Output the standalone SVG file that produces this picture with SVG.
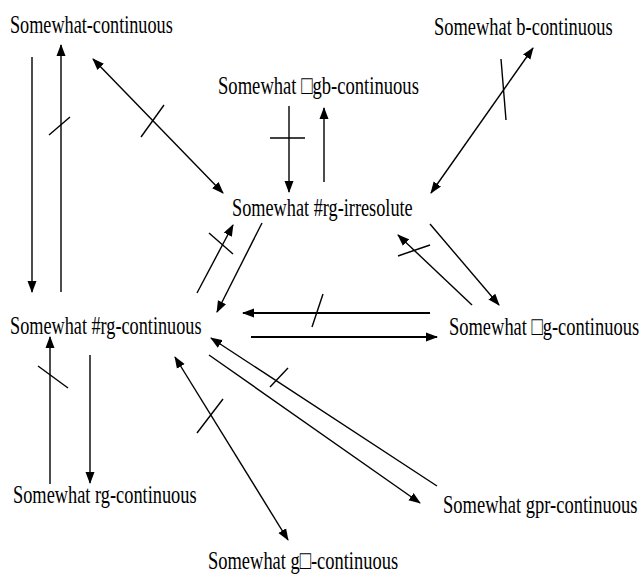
<svg xmlns="http://www.w3.org/2000/svg" width="642" height="578" viewBox="0 0 642 578">
<style>
text{font-family:"Liberation Serif","Times New Roman",serif;font-size:26px;fill:#000}
.c line{stroke:#000;stroke-width:1.4;fill:none}
.c .a{marker-end:url(#ah)}
.c .d{marker-start:url(#ah);marker-end:url(#ah)}
.c .t{stroke-width:2}
</style>
<defs>
<marker id="ah" markerUnits="userSpaceOnUse" markerWidth="12" markerHeight="10" refX="11" refY="4.5" orient="auto-start-reverse" viewBox="0 0 12 9">
<path d="M0,0 L12,4.5 L0,9 z" fill="#000"/>
</marker>
</defs>
<rect width="642" height="578" fill="#fff"/>
<g id="n-cont"><text transform="translate(10,33) scale(0.72,1)" textLength="226" lengthAdjust="spacingAndGlyphs">Somewhat-continuous</text></g>
<g id="n-bcont"><text transform="translate(434,35) scale(0.72,1)" textLength="248" lengthAdjust="spacingAndGlyphs">Somewhat b-continuous</text></g>
<g id="n-gbcont"><text transform="translate(218,94) scale(0.72,1)" textLength="279" lengthAdjust="spacingAndGlyphs">Somewhat □gb-continuous</text></g>
<g id="n-irres"><text transform="translate(232,216) scale(0.72,1)" textLength="251" lengthAdjust="spacingAndGlyphs">Somewhat #rg-irresolute</text></g>
<g id="n-rgcont2"><text transform="translate(10,334) scale(0.72,1)" textLength="266" lengthAdjust="spacingAndGlyphs">Somewhat #rg-continuous</text></g>
<g id="n-gcont"><text transform="translate(449,335) scale(0.72,1)" textLength="264" lengthAdjust="spacingAndGlyphs">Somewhat □g-continuous</text></g>
<g id="n-rgcont"><text transform="translate(13,503) scale(0.72,1)" textLength="255" lengthAdjust="spacingAndGlyphs">Somewhat rg-continuous</text></g>
<g id="n-gprcont"><text transform="translate(443,513) scale(0.72,1)" textLength="270" lengthAdjust="spacingAndGlyphs">Somewhat gpr-continuous</text></g>
<g id="n-gxcont"><text transform="translate(208,569) scale(0.72,1)" textLength="264" lengthAdjust="spacingAndGlyphs">Somewhat g□-continuous</text></g>
<g id="connectors" class="c">
<line class="a" x1="32" y1="57" x2="32" y2="292"/>
<line class="a" x1="61" y1="292" x2="61" y2="45"/>
<line x1="49" y1="135" x2="70" y2="117"/>
<line class="d" x1="93" y1="59" x2="223" y2="193"/>
<line x1="141" y1="137" x2="164" y2="105"/>
<line class="a" x1="197" y1="293" x2="233" y2="225"/>
<line x1="209" y1="233" x2="233" y2="254"/>
<line class="a" x1="262" y1="223" x2="217" y2="312"/>
<line class="a" x1="289" y1="106" x2="289" y2="192"/>
<line x1="270" y1="138" x2="305" y2="138"/>
<line class="a" x1="324" y1="182" x2="324" y2="108"/>
<line class="d" x1="533" y1="48" x2="431" y2="193"/>
<line x1="501" y1="59" x2="506" y2="120"/>
<line class="a" x1="472" y1="305" x2="398" y2="235"/>
<line x1="398" y1="256" x2="430" y2="245"/>
<line class="a" x1="430" y1="224" x2="499" y2="305"/>
<line class="a t" x1="430" y1="313" x2="243" y2="313"/>
<line x1="312" y1="327" x2="323" y2="294"/>
<line class="a t" x1="251" y1="337" x2="437" y2="337"/>
<line class="d" x1="175" y1="357" x2="288" y2="540"/>
<line x1="197" y1="433" x2="223" y2="399"/>
<line class="a" x1="437" y1="486" x2="211" y2="338"/>
<line x1="270" y1="387" x2="288" y2="368"/>
<line class="a" x1="209" y1="355" x2="420" y2="503"/>
<line class="a" x1="50" y1="484" x2="50" y2="337"/>
<line x1="38" y1="366" x2="68" y2="388"/>
<line class="a" x1="90" y1="355" x2="90" y2="483"/>
</g>
</svg>
